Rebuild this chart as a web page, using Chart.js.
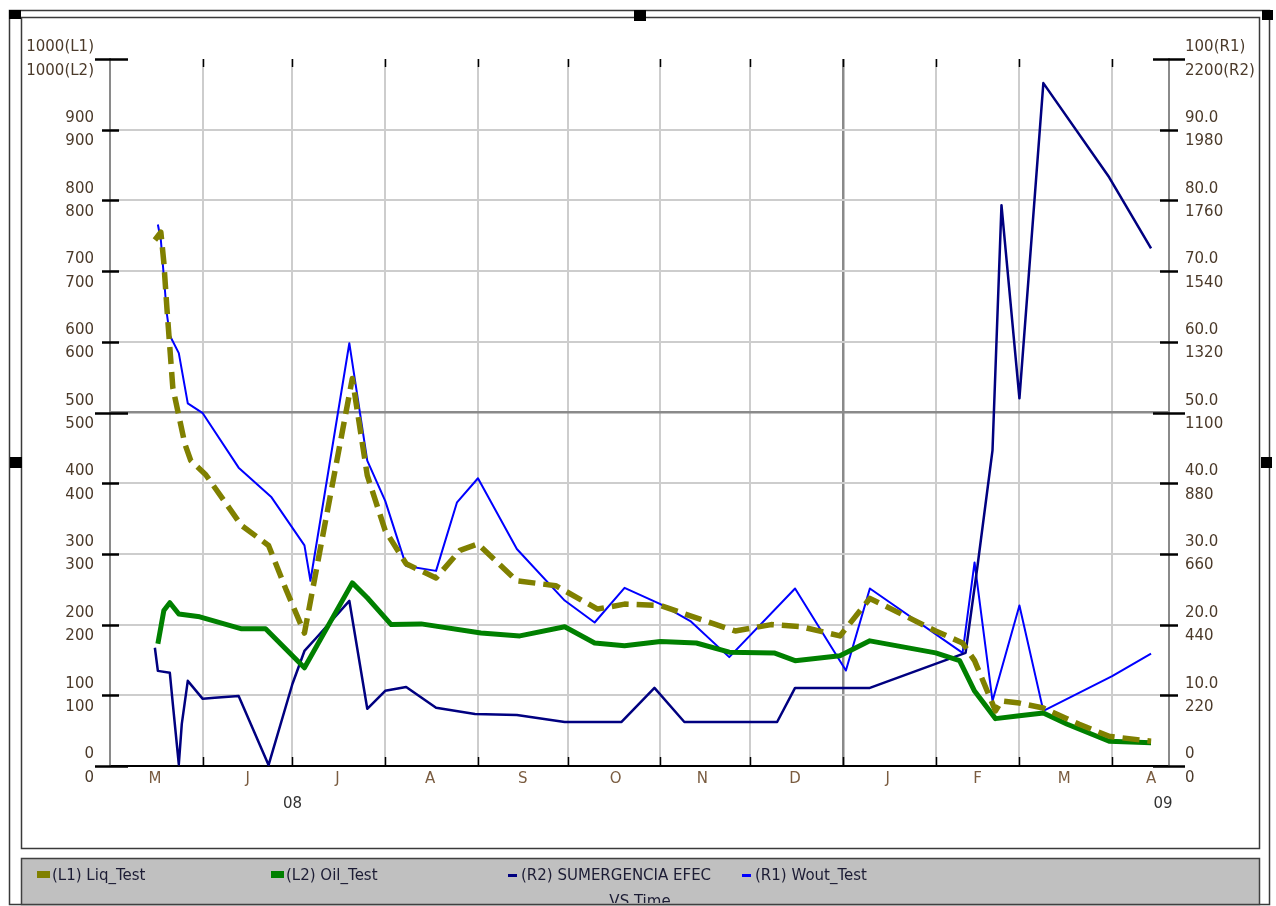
<!DOCTYPE html>
<html>
<head>
<meta charset="utf-8">
<script src="https://cdn.jsdelivr.net/npm/chart.js@4.4.0/dist/chart.umd.min.js"></script>
<style>
  html, body { margin: 0; padding: 0; background: #fff; }
  #wrap { width: 1276px; height: 906px; position: relative; }
</style>
</head>
<body>
<div id="wrap"><canvas id="chart"></canvas></div>
<script>
// ---- Time axis (days counted from the first day of the axis) ----
const axisStart = '2008-05-01';
const axisEnd = '2009-04-20';
const monthStarts = ['2008-06-01','2008-07-01','2008-08-01','2008-09-01','2008-10-01','2008-11-01',
                     '2008-12-01','2009-01-01','2009-02-01','2009-03-01','2009-04-01'];
const yearBreak = '2009-01-01';
const monthLabelDates = ['2008-05-16','2008-06-16','2008-07-16','2008-08-16','2008-09-16','2008-10-17',
                         '2008-11-15','2008-12-16','2009-01-16','2009-02-15','2009-03-16','2009-04-14'];
const monthLabels = ['M','J','J','A','S','O','N','D','J','F','M','A'];
const yearLabelDates = ['2008-07-01','2009-04-18'];
const yearLabels = ['08','09'];

// ---- Axis tick labels ----
const leftL1Labels = ['0','100','200','300','400','500','600','700','800','900','1000(L1)'];
const leftL2Labels = ['0','100','200','300','400','500','600','700','800','900','1000(L2)'];
const rightR1Labels = ['0','10.0','20.0','30.0','40.0','50.0','60.0','70.0','80.0','90.0','100(R1)'];
const rightR2Labels = ['0','220','440','660','880','1100','1320','1540','1760','1980','2200(R2)'];

// ---- Series ----
const liqDates = ['2008-05-16','2008-05-18','2008-05-19','2008-05-20','2008-05-21','2008-05-22','2008-05-26',
  '2008-05-28','2008-06-02','2008-06-14','2008-06-23','2008-06-29','2008-07-05','2008-07-21','2008-07-26',
  '2008-08-01','2008-08-08','2008-08-18','2008-08-26','2008-09-01','2008-09-14','2008-09-27','2008-10-11',
  '2008-10-20','2008-11-01','2008-11-14','2008-11-26','2008-12-08','2008-12-18','2008-12-31','2009-01-10',
  '2009-02-01','2009-02-10','2009-02-14','2009-02-21','2009-02-23','2009-03-01','2009-03-09','2009-03-21',
  '2009-03-31','2009-04-14'];
const liqValues = [744,755,712,649,592,535,456,432,412,340,312,248,188,548,411,333,286,266,305,314,
  262,255,222,229,227,208,191,200,197,184,237,191,174,149,78,92,89,82,59,42,35];

const oilDates = ['2008-05-17','2008-05-19','2008-05-21','2008-05-24','2008-05-31','2008-06-14','2008-06-22',
  '2008-07-05','2008-07-21','2008-07-26','2008-08-03','2008-08-13','2008-09-02','2008-09-15','2008-09-30',
  '2008-10-10','2008-10-20','2008-11-01','2008-11-13','2008-11-24','2008-12-09','2008-12-16','2008-12-31',
  '2009-01-10','2009-02-01','2009-02-09','2009-02-14','2009-02-21','2009-03-01','2009-03-09','2009-03-17',
  '2009-03-31','2009-04-14'];
const oilValues = [173,220,231,215,211,194,194,139,259,238,200,201,188,184,197,174,170,176,174,161,
  160,149,156,177,160,149,106,67,71,75,59,35,33];

const subDates = ['2008-05-16','2008-05-17','2008-05-21','2008-05-22','2008-05-24','2008-05-25','2008-05-27',
  '2008-06-01','2008-06-05','2008-06-13','2008-06-23','2008-07-01','2008-07-05','2008-07-09','2008-07-20',
  '2008-07-26','2008-08-01','2008-08-08','2008-08-18','2008-08-31','2008-09-14','2008-09-30','2008-10-19',
  '2008-10-30','2008-11-09','2008-12-10','2008-12-16','2009-01-10','2009-02-11','2009-02-15','2009-02-20',
  '2009-02-23','2009-03-01','2009-03-09','2009-03-31','2009-04-14'];
const subValues = [368,296,290,193,5,131,265,209,212,218,3,256,358,399,514,178,234,246,181,162,
  159,137,137,243,137,137,243,243,352,623,982,1745,1144,2125,1832,1611];

const woutDates = ['2008-05-17','2008-05-18','2008-05-20','2008-05-21','2008-05-24','2008-05-27','2008-06-01',
  '2008-06-13','2008-06-24','2008-07-05','2008-07-07','2008-07-20','2008-07-26','2008-08-01','2008-08-08',
  '2008-08-18','2008-08-25','2008-09-01','2008-09-14','2008-09-30','2008-10-10','2008-10-20','2008-11-01',
  '2008-11-11','2008-11-24','2008-12-16','2009-01-02','2009-01-10','2009-02-10','2009-02-14','2009-02-20',
  '2009-03-01','2009-03-09','2009-04-01','2009-04-14'];
const woutValues = [76.6,74.4,64.0,60.9,58.4,51.3,49.9,42.2,38.0,31.2,26.2,59.8,43.2,37.5,28.3,
  27.6,37.3,40.7,30.7,23.4,20.3,25.2,22.9,20.5,15.4,25.1,13.5,25.1,16.0,28.8,9.2,22.7,7.8,12.7,15.9];

// ---- Helpers ----
const FONT = '"DejaVu Sans", "Liberation Sans", Arial, sans-serif';
const DAY = 86400000;
function toUTC(s) { const p = s.split('-').map(Number); return Date.UTC(p[0], p[1] - 1, p[2]); }
const t0 = toUTC(axisStart);
function dayOf(s) { return Math.round((toUTC(s) - t0) / DAY); }
function points(dates, values) { return dates.map((d, i) => ({ x: dayOf(d), y: values[i] })); }

const monthStartDays = new Set(monthStarts.map(dayOf));
const yearBreakDay = dayOf(yearBreak);
const xLabelMap = new Map();
monthLabelDates.forEach((d, i) => xLabelMap.set(dayOf(d), monthLabels[i]));
const yearDays = new Set();
yearLabelDates.forEach((d, i) => { xLabelMap.set(dayOf(d), ['', yearLabels[i]]); yearDays.add(dayOf(d)); });
const xTickDays = Array.from(new Set([...monthStartDays, ...xLabelMap.keys()])).sort((a, b) => a - b);

const GRID_LIGHT = '#cdcdcd';
const GRID_DARK = '#8a8a8a';
const NONE = 'rgba(0,0,0,0)';

// ---- Frame, panel and legend drawn around the plot ----
const framePlugin = {
  id: 'frame',
  beforeDraw(chart) {
    const c = chart.ctx;
    c.save();
    c.fillStyle = '#ffffff';
    c.fillRect(0, 0, chart.width, chart.height);
    c.strokeStyle = '#3a3a3a';
    c.lineWidth = 1.5;
    c.strokeRect(9.5, 10.5, 1260, 894);
    c.strokeRect(21.5, 17.5, 1238, 831);
    c.fillStyle = '#c0c0c0';
    c.fillRect(21.5, 858.5, 1238, 46);
    c.strokeStyle = '#404040';
    c.strokeRect(21.5, 858.5, 1238, 46);
    c.restore();
  },
  afterDraw(chart) {
    const c = chart.ctx;
    const area = chart.chartArea;
    c.save();
    // axis tick marks crossing the value axes
    c.strokeStyle = '#000';
    c.lineWidth = 2.5;
    const yL = chart.scales.yL, yR = chart.scales.yR, x = chart.scales.x;
    yL.ticks.forEach(t => {
      const y = Math.round(yL.getPixelForValue(t.value)) + 0.5;
      const long = (t.value === 0 || t.value === 500 || t.value === 1000);
      c.beginPath();
      c.moveTo(area.left - (long ? 15 : 8), y);
      c.lineTo(area.left + (long ? 18 : 9), y);
      c.stroke();
    });
    yR.ticks.forEach(t => {
      const y = Math.round(yR.getPixelForValue(t.value)) + 0.5;
      const long = (t.value === 0 || t.value === 50 || t.value === 100);
      c.beginPath();
      c.moveTo(area.right - (long ? 16 : 9), y);
      c.lineTo(area.right + (long ? 16 : 9), y);
      c.stroke();
    });
    // month ticks along bottom and top edges
    c.lineWidth = 1.5;
    monthStartDays.forEach(d => {
      const px = Math.round(x.getPixelForValue(d)) + 0.5;
      c.beginPath();
      c.moveTo(px, area.bottom - 9); c.lineTo(px, area.bottom);
      c.moveTo(px, area.top); c.lineTo(px, area.top + 8);
      c.stroke();
    });
    // selection handles on the frame
    c.fillStyle = '#000';
    c.fillRect(9, 10, 12, 9);
    c.fillRect(634, 10, 12, 11);
    c.fillRect(1262, 10, 11, 10);
    c.fillRect(10, 457, 12, 11);
    c.fillRect(1261, 457, 11, 11);
    // legend
    const items = [
      { ds: 0, x: 37, kind: 'box' },
      { ds: 1, x: 271, kind: 'box' },
      { ds: 2, x: 508, kind: 'line' },
      { ds: 3, x: 742, kind: 'line' }
    ];
    c.font = '15px ' + FONT;
    c.textBaseline = 'middle';
    c.textAlign = 'left';
    items.forEach(it => {
      const ds = chart.data.datasets[it.ds];
      c.fillStyle = ds.borderColor;
      if (it.kind === 'box') {
        c.fillRect(it.x, 871, 13, 7);
        c.fillStyle = '#1c1c34';
        c.fillText(ds.label, it.x + 15, 876);
      } else {
        c.fillRect(it.x, 874, 9, 3);
        c.fillStyle = '#1c1c34';
        c.fillText(ds.label, it.x + 13, 876);
      }
    });
    c.save();
    c.beginPath();
    c.rect(22, 859, 1236, 44);
    c.clip();
    c.textAlign = 'center';
    c.fillStyle = '#1c1c34';
    c.fillText('VS Time', 640, 902);
    c.restore();
    c.restore();
  }
};

const ctx = document.getElementById('chart').getContext('2d');
new Chart(ctx, {
  type: 'line',
  data: {
    datasets: [
      {
        label: '(L1) Liq_Test', data: points(liqDates, liqValues), yAxisID: 'yL', order: 0,
        borderColor: '#808000', borderWidth: 5.5, borderDash: [17, 8], borderCapStyle: 'butt',
        borderJoinStyle: 'round', pointRadius: 0, fill: false, tension: 0
      },
      {
        label: '(L2) Oil_Test', data: points(oilDates, oilValues), yAxisID: 'yL2', order: 1,
        borderColor: '#008000', borderWidth: 5, borderJoinStyle: 'round', pointRadius: 0, fill: false, tension: 0
      },
      {
        label: '(R2) SUMERGENCIA EFEC', data: points(subDates, subValues), yAxisID: 'yR2', order: 2,
        borderColor: '#000080', borderWidth: 2.5, borderJoinStyle: 'round', pointRadius: 0, fill: false, tension: 0
      },
      {
        label: '(R1) Wout_Test', data: points(woutDates, woutValues), yAxisID: 'yR', order: 3,
        borderColor: '#0000ff', borderWidth: 2, borderJoinStyle: 'round', pointRadius: 0, fill: false, tension: 0
      }
    ]
  },
  options: {
    responsive: true,
    maintainAspectRatio: false,
    animation: false,
    events: [],
    layout: { padding: { top: 59, left: 0, right: 0, bottom: 0 } },
    plugins: { legend: { display: false }, tooltip: { enabled: false }, title: { display: false } },
    scales: {
      x: {
        type: 'linear', position: 'bottom',
        min: 0, max: dayOf(axisEnd),
        afterBuildTicks: s => { s.ticks = xTickDays.map(v => ({ value: v })); },
        afterFit: s => { s.height = 140; },
        ticks: {
          autoSkip: false, maxRotation: 0, minRotation: 0, padding: 1,
          font: { family: FONT, size: 15, lineHeight: 1.65 },
          color: c => (c.tick && yearDays.has(c.tick.value)) ? '#333333' : '#7a5c40',
          callback: v => (xLabelMap.has(v) ? xLabelMap.get(v) : '')
        },
        grid: {
          drawTicks: false,
          color: c => {
            if (!c.tick || !monthStartDays.has(c.tick.value)) return NONE;
            return c.tick.value === yearBreakDay ? GRID_DARK : GRID_LIGHT;
          },
          lineWidth: c => (c.tick && c.tick.value === yearBreakDay) ? 2.5 : 2
        },
        border: { color: '#000000', width: 2 }
      },
      yL: {
        type: 'linear', position: 'left', min: 0, max: 1000,
        afterFit: s => { s.width = 110; },
        ticks: {
          stepSize: 100, autoSkip: false, padding: 16,
          font: { family: FONT, size: 15, lineHeight: 1.55 },
          color: '#4b3a2a',
          callback: (v, i) => [leftL1Labels[i], leftL2Labels[i]]
        },
        grid: {
          drawTicks: false,
          color: c => {
            const v = c.tick ? c.tick.value : -1;
            if (v === 0 || v === 1000) return NONE;
            return v === 500 ? GRID_DARK : GRID_LIGHT;
          },
          lineWidth: c => (c.tick && c.tick.value === 500) ? 2.5 : 2
        },
        border: { color: '#8a8a8a', width: 2 }
      },
      yL2: { type: 'linear', display: false, min: 0, max: 1000 },
      yR: {
        type: 'linear', position: 'right', min: 0, max: 100,
        afterFit: s => { s.width = 107; },
        ticks: {
          stepSize: 10, autoSkip: false, padding: 16,
          font: { family: FONT, size: 15, lineHeight: 1.55 },
          color: '#4b3a2a',
          callback: (v, i) => [rightR1Labels[i], rightR2Labels[i]]
        },
        grid: { display: false, drawTicks: false },
        border: { color: '#8a8a8a', width: 2 }
      },
      yR2: { type: 'linear', display: false, min: 0, max: 2200 }
    }
  },
  plugins: [framePlugin]
});
</script>
</body>
</html>
